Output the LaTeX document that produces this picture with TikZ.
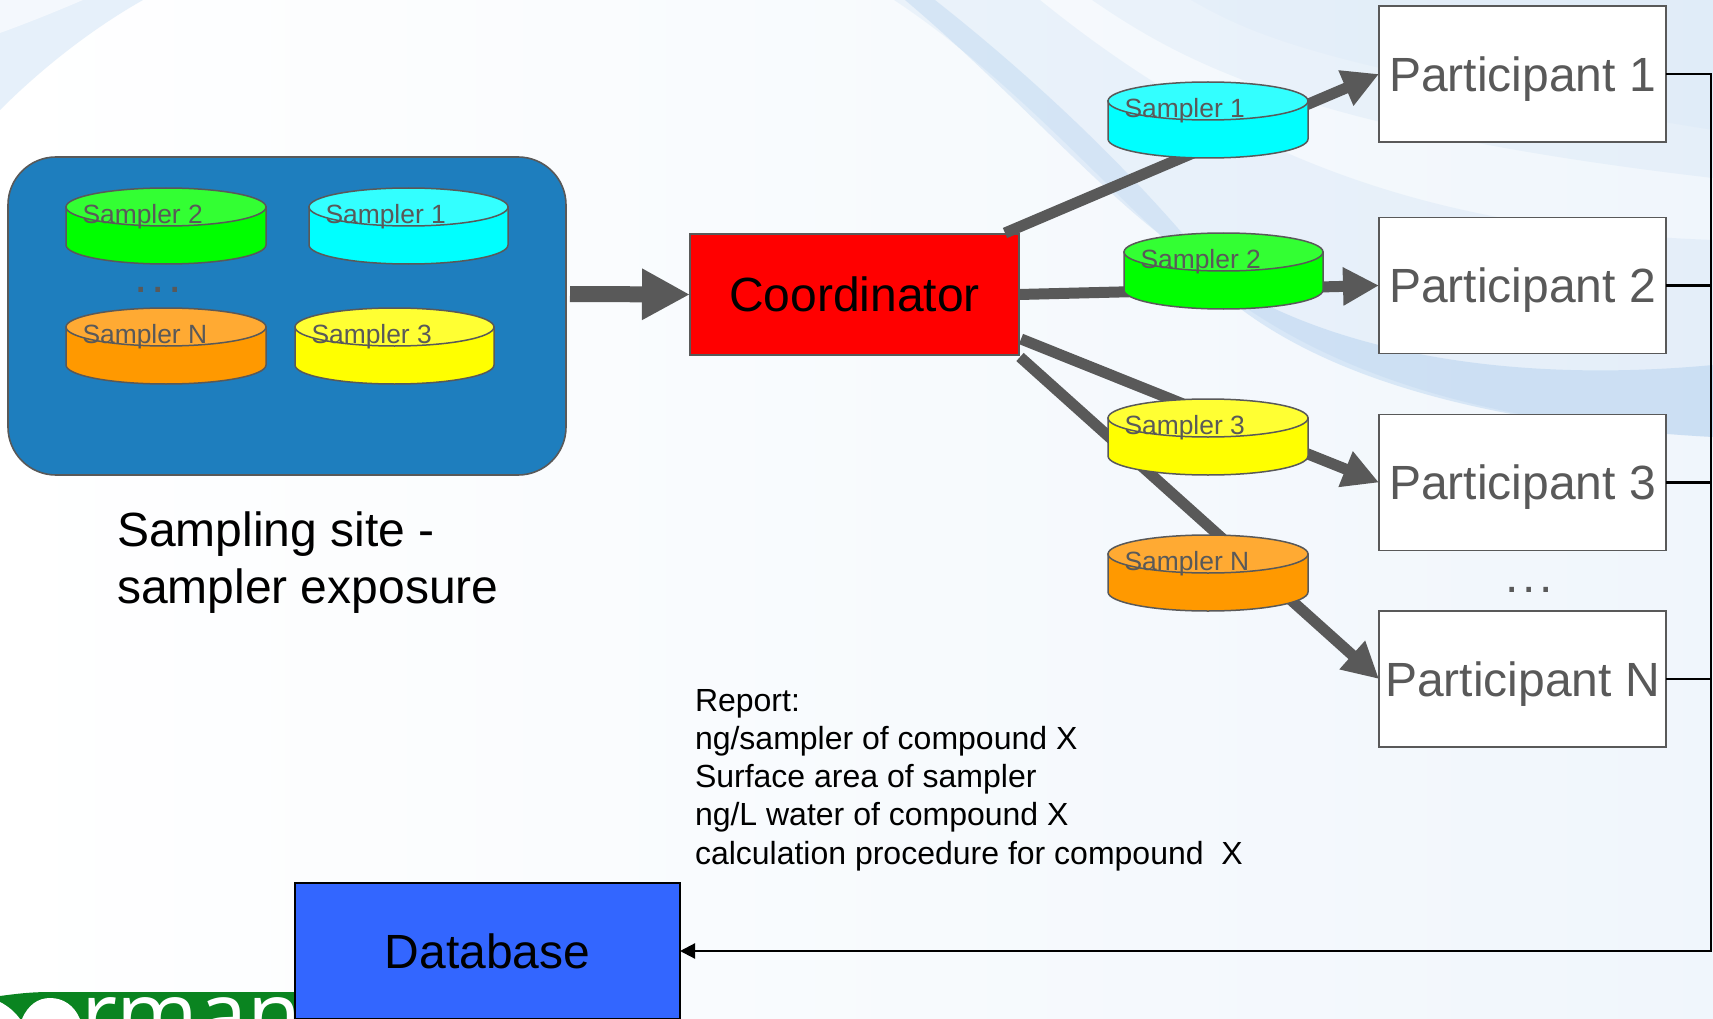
\documentclass[tikz,border=0pt]{standalone}
\usepackage{fontspec}
\setmainfont{Liberation Sans}
\newfontfamily\logofont{Open Sans}
\usetikzlibrary{arrows.meta,calc}
\definecolor{greyline}{HTML}{595959}
\definecolor{sitefill}{HTML}{1E7EBE}
\definecolor{dbfill}{HTML}{3366FF}
\definecolor{logogreen}{HTML}{0A8420}
\definecolor{swoosh}{HTML}{5B9BDC}
\definecolor{cyanbody}{HTML}{00FFFF}
\definecolor{cyantop}{HTML}{33FFFF}
\definecolor{greenbody}{HTML}{00FF00}
\definecolor{greentop}{HTML}{33FF33}
\definecolor{orangebody}{HTML}{FF9900}
\definecolor{orangetop}{HTML}{FFAA33}
\definecolor{yellowbody}{HTML}{FFFF00}
\definecolor{yellowtop}{HTML}{FFFF33}
\definecolor{redfill}{HTML}{FF0000}
\tikzset{
  every node/.style={outer sep=0pt},
  partbox/.style={draw=greyline,line width=1.6pt,fill=white,minimum width=287pt,minimum height=136pt,inner sep=0pt,text=greyline,text depth=0pt,font=\fontsize{48}{57}\selectfont},
  thickarrow/.style={draw=greyline,line width=11pt,-{Triangle[length=36pt,width=36pt]}},
  busline/.style={draw=black,line width=2.2pt},
  disk/.style={draw=greyline,line width=1.5pt},
  disklabel/.style={anchor=base west,inner sep=0pt,text=greyline,font=\fontsize{26.4}{30}\selectfont},
  dotstext/.style={anchor=base,inner sep=0pt,text=greyline,font=\fontsize{48}{48}\selectfont\addfontfeature{LetterSpace=8}},
  band/.style={fill=swoosh,draw=none}
}
% name, left x, top y, width, body colour, top colour, label
\newcommand{\samplerdisk}[7]{%
  \begin{scope}[shift={(#2,#3)}]
    \pgfmathsetmacro{\halfw}{#4/2}
    \filldraw[disk,fill=#5] (0,19) -- (0,57) arc[start angle=180,end angle=360,x radius=\halfw pt,y radius=19pt] -- (#4,19) -- cycle;
    \filldraw[disk,fill=#6] (\halfw,19) ellipse[x radius=\halfw pt,y radius=19pt];
    \node[disklabel] (#1) at (16.5,35.5) {#7};
  \end{scope}}
\begin{document}
\begin{tikzpicture}[x=1pt,y=-1pt]
\useasboundingbox (0,0) rectangle (1713,1019);
% background
\shade[left color=white,right color=white!91!swoosh] (0,0) rectangle (1713,1019);
\fill[color=white!85!swoosh] (0,0) -- (143,0) .. controls (90,30) and (40,70) .. (0,110) -- cycle;
\fill[color=white!93!swoosh] (0,0) -- (83,0) .. controls (55,12) and (25,24) .. (0,33) -- cycle;
\fill[band,opacity=.07] (1092,0) .. controls (1180,60) and (1300,130) .. (1713,178) -- (1713,0) -- cycle;
\fill[band,opacity=.03] (1191,0) .. controls (1260,40) and (1340,70) .. (1713,130) -- (1713,0) -- cycle;
\fill[band,opacity=.08] (894,0) .. controls (1000,70) and (1090,170) .. (1158,233) .. controls (1250,330) and (1400,420) .. (1713,437) -- (1713,240) .. controls (1450,230) and (1250,170) .. (1040,0) -- cycle;
\fill[band,opacity=.14] (905,0) .. controls (1000,80) and (1090,180) .. (1158,233) .. controls (1180,255) and (1210,285) .. (1240,305) .. controls (1200,250) and (1100,130) .. (935,0) -- cycle;
\fill[band,opacity=.18] (1180,250) .. controls (1250,340) and (1400,420) .. (1713,437) -- (1713,365) .. controls (1500,385) and (1300,350) .. (1180,250) -- cycle;
% logo
\fill[logogreen] (0,1019) -- (0,996) .. controls (15,994) and (30,992) .. (50,992) -- (296,992) -- (296,1019) -- cycle;
\fill[white] (22,1019) .. controls (28,1005) and (38,998) .. (50,998) .. controls (63,998) and (74,1005) .. (80,1019) -- cycle;
\fill[white] (0,1002) .. controls (8,1006) and (15,1012) .. (20,1019) -- (0,1019) -- cycle;
\node[anchor=base west,inner sep=0pt,text=white,font=\logofont\fontsize{88}{88}\selectfont] (logotext) at (81,1045) {rman};
% boxes
\node[draw=greyline,line width=1.6pt,fill=sitefill,rounded corners=48pt,minimum width=558pt,minimum height=318pt,inner sep=0pt] (site) at (287,316) {};
\node[draw=greyline,line width=1.6pt,fill=redfill,minimum width=329pt,minimum height=121pt,inner sep=0pt,font=\fontsize{48}{57}\selectfont] (coord) at (854.5,294.5) {Coordinator};
\node[partbox] (p1) at (1522.5,74) {Participant 1};
\node[partbox] (p2) at (1522.5,285.5) {Participant 2};
\node[partbox] (p3) at (1522.5,482.5) {Participant 3};
\node[partbox] (pn) at (1522.5,679) {Participant N};
\node[draw=black,line width=2pt,fill=dbfill,minimum width=385pt,minimum height=136pt,inner sep=0pt,font=\fontsize{48}{57}\selectfont] (db) at (487.5,951) {Database};
% thick connectors
\coordinate (c1) at (1005,233);
\coordinate (c3) at (1021,339);
\coordinate (c4) at (1020,357);
\coordinate (sitee) at (570,294);
\draw[draw=greyline,line width=16pt,-{Triangle[length=48pt,width=48pt]}] (sitee) -- (coord.west);
\draw[thickarrow] (c1) -- (p1.west);
\draw[thickarrow] (coord.east) -- (p2.west);
\draw[thickarrow] (c3) -- (p3.west);
\draw[thickarrow] (c4) -- (pn.west);
% bus
\coordinate (bus) at (1711,951);
\draw[busline,-{Triangle[length=15pt,width=15pt]}] (p1.east) -| (bus) -- (db.east);
\draw[busline] (p2.east) -- (p2.east -| bus);
\draw[busline] (p3.east) -- (p3.east -| bus);
\draw[busline] (pn.east) -- (pn.east -| bus);
% samplers in the site
\samplerdisk{s2a}{66}{188}{200}{greenbody}{greentop}{Sampler 2}
\samplerdisk{s1a}{309}{188}{199}{cyanbody}{cyantop}{Sampler 1}
\samplerdisk{sna}{66}{308}{200}{orangebody}{orangetop}{Sampler N}
\samplerdisk{s3a}{295}{308}{199}{yellowbody}{yellowtop}{Sampler 3}
\node[dotstext] (dotsa) at (158,292) {...};
% samplers on the way
\samplerdisk{s1b}{1108}{82}{200}{cyanbody}{cyantop}{Sampler 1}
\samplerdisk{s2b}{1124}{233}{199}{greenbody}{greentop}{Sampler 2}
\samplerdisk{s3b}{1108}{399}{200}{yellowbody}{yellowtop}{Sampler 3}
\samplerdisk{snb}{1108}{535}{200}{orangebody}{orangetop}{Sampler N}
\node[dotstext] (dotsb) at (1529,592) {...};
% texts
\node[anchor=west,inner sep=0pt,align=left,font=\fontsize{48}{57}\selectfont] (sitetext) at (117,562.5) {Sampling site -\\sampler exposure};
\node[anchor=west,inner sep=0pt,align=left,font=\fontsize{32}{38.3}\selectfont] (report) at (695,780) {Report:\\ng/sampler of compound X\\Surface area of sampler\\ng/L water of compound X\\calculation procedure for compound\ \ X};
\end{tikzpicture}
\end{document}
